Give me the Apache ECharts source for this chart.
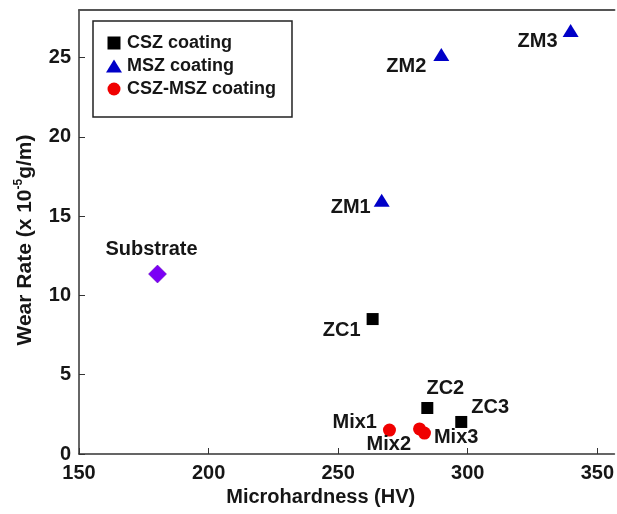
<!DOCTYPE html>
<html>
<head>
<meta charset="utf-8">
<script src="https://cdn.jsdelivr.net/npm/echarts@6/dist/echarts.min.js"></script>
<style>html,body{margin:0;padding:0;background:#fff;overflow:hidden;}#c{width:617px;height:514px;}</style>
</head>
<body>
<div id="c"></div>
<script>
// ---- data ----
const cszNames = ['ZC1', 'ZC2', 'ZC3'];
const cszHV = [263.3, 284.4, 297.5];
const cszWear = [8.51, 2.90, 2.02];

const mszNames = ['ZM1', 'ZM2', 'ZM3'];
const mszHV = [266.8, 289.8, 339.7];
const mszWear = [16.0, 25.2, 26.7];

const mixNames = ['Mix1', 'Mix2', 'Mix3'];
const mixHV = [269.8, 281.4, 283.3];
const mixWear = [1.51, 1.58, 1.32];

const subNames = ['Substrate'];
const subHV = [180.3];
const subWear = [11.35];

const seriesNames = ['CSZ coating', 'MSZ coating', 'CSZ-MSZ coating'];
const xTicks = [150, 200, 250, 300, 350];
const yTicks = [0, 5, 10, 15, 20, 25];

// ---- label placement (style, not data) ----
const labelPlace = {
  'Substrate': {position: 'top', distance: 5, offset: [-6, 0]},
  'ZC1': {position: 'left', distance: 6, offset: [0, 11]},
  'ZC2': {position: 'top', distance: 4, offset: [18, 0]},
  'ZC3': {position: 'right', distance: 4, offset: [0, -14]},
  'ZM1': {position: 'left', distance: 3, offset: [0, 7]},
  'ZM2': {position: 'left', distance: 7, offset: [0, 12]},
  'ZM3': {position: 'left', distance: 5, offset: [0, 11]},
  'Mix1': {position: 'left', distance: 6, offset: [0, -8]},
  'Mix2': {position: 'left', distance: 2, offset: [0, 16]},
  'Mix3': {position: 'right', distance: 3, offset: [0, 4]}
};

function build(names, xs, ys) {
  return names.map((n, i) => ({
    name: n,
    value: [xs[i], ys[i]],
    label: Object.assign({show: true}, labelPlace[n])
  }));
}

const FONT = '"Liberation Sans", Arial, sans-serif';
const labelStyle = {
  show: true,
  formatter: p => p.name,
  fontFamily: FONT,
  fontWeight: 'bold',
  fontSize: 20,
  color: '#161616'
};
const X_MAX = 356.6;

const chart = echarts.init(document.getElementById('c'), null, {renderer: 'canvas'});
chart.setOption({
  animation: false,
  backgroundColor: '#fff',
  grid: {left: 79, right: 0, top: 10, bottom: 60, show: false},
  legend: {
    left: 93, top: 21,
    orient: 'vertical',
    padding: [13, 16, 19, 13],
    itemGap: 5,
    itemWidth: 16, itemHeight: 13,
    borderColor: '#222', borderWidth: 1.5,
    textStyle: {fontFamily: FONT, fontWeight: 'bold', fontSize: 18, color: '#161616'},
    data: [
      {name: seriesNames[0], icon: 'path://M0,0H10V10H0Z'},
      {name: seriesNames[1], icon: 'triangle'},
      {name: seriesNames[2], icon: 'circle'}
    ]
  },
  xAxis: [{
    type: 'value',
    min: xTicks[0], max: X_MAX, interval: 50,
    name: 'Microhardness (HV)',
    nameLocation: 'middle', nameGap: 31,
    nameTextStyle: {fontFamily: FONT, fontWeight: 'bold', fontSize: 20, color: '#161616', padding: [0, 52, 0, 0]},
    axisLine: {onZero: false, lineStyle: {color: '#333', width: 1.5}},
    axisTick: {inside: true, length: 6, lineStyle: {color: '#333', width: 1}},
    axisLabel: {
      fontFamily: FONT, fontWeight: 'bold', fontSize: 20, color: '#161616', margin: 9,
      showMaxLabel: false,
      formatter: v => (xTicks.indexOf(v) >= 0 ? String(v) : '')
    },
    splitLine: {show: false}
  }, {
    type: 'value', position: 'top',
    min: xTicks[0], max: X_MAX, interval: 50,
    axisLine: {onZero: false, lineStyle: {color: '#555', width: 2}},
    axisTick: {show: false},
    axisLabel: {show: false},
    splitLine: {show: false}
  }],
  yAxis: {
    type: 'value',
    min: yTicks[0], max: 28, interval: 5,
    name: 'Wear Rate (x 10{sup|-5}g/m)',
    nameLocation: 'middle', nameGap: 42, nameRotate: 90,
    nameTextStyle: {
      fontFamily: FONT, fontWeight: 'bold', fontSize: 21, color: '#161616', padding: [0, 16, 0, 0],
      rich: {sup: {fontFamily: FONT, fontWeight: 'bold', fontSize: 12, color: '#161616', verticalAlign: 'top', padding: [0, 0, 12, 0]}}
    },
    axisLine: {onZero: false, lineStyle: {color: '#333', width: 1.5}},
    axisTick: {inside: true, length: 6, lineStyle: {color: '#333', width: 1}},
    axisLabel: {
      fontFamily: FONT, fontWeight: 'bold', fontSize: 20, color: '#161616', margin: 8,
      showMaxLabel: false,
      formatter: v => (yTicks.indexOf(v) >= 0 ? String(v) : '')
    },
    splitLine: {show: false}
  },
  series: [
    {
      name: seriesNames[0], type: 'scatter', symbol: 'rect', symbolSize: 12,
      itemStyle: {color: '#000000', opacity: 1},
      label: labelStyle,
      data: build(cszNames, cszHV, cszWear)
    },
    {
      name: seriesNames[1], type: 'scatter', symbol: 'triangle', symbolSize: [16, 13],
      itemStyle: {color: '#0000C8', opacity: 1},
      label: labelStyle,
      data: build(mszNames, mszHV, mszWear)
    },
    {
      name: seriesNames[2], type: 'scatter', symbol: 'circle', symbolSize: 13,
      itemStyle: {color: '#F00000', opacity: 1},
      label: labelStyle,
      data: build(mixNames, mixHV, mixWear)
    },
    {
      name: 'Substrate', type: 'scatter', symbol: 'diamond', symbolSize: 18,
      itemStyle: {color: '#7B00F5', borderColor: '#5a00b5', borderWidth: 0.5, opacity: 1},
      label: labelStyle,
      data: build(subNames, subHV, subWear)
    }
  ]
});
</script>
</body>
</html>
